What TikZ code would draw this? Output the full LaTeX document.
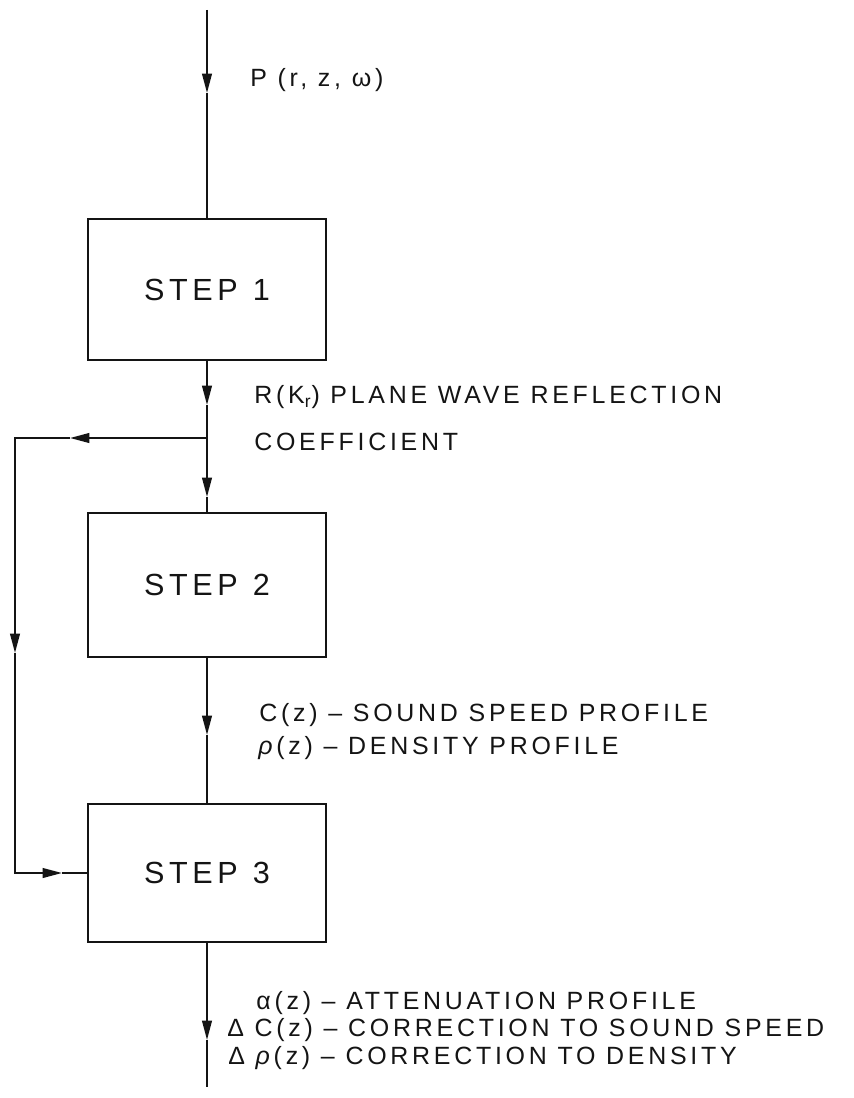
\documentclass[tikz,border=0pt]{standalone}
\usepackage{fontspec}
\setmainfont{Liberation Sans}[LetterSpace=15]
\usepackage{tikz}
\usetikzlibrary{arrows.meta,positioning,calc}
\definecolor{cInk}{HTML}{141414}
\tikzset{
  stepbox/.style={draw=cInk, line width=1.5pt, minimum width=4.76cm, inner sep=0pt,
                  text=cInk, font=\fontsize{17.4}{20}\selectfont},
  wire/.style={draw=cInk, line width=1.1pt},
  flow/.style={wire, -{Triangle[length=11pt, width=5.5pt]}},
  lbl/.style={font=\fontsize{14.2}{17}\selectfont, text=cInk, anchor=west, inner sep=0pt}
}

\begin{document}
\begin{tikzpicture}[x=0.02cm, y=-0.02cm]
\useasboundingbox (0,0) rectangle (853,1098);
% the three steps
\node[stepbox, minimum height=2.82cm] (s1) at (207,289.5) {STEP\enspace 1};
\node[stepbox, minimum height=2.88cm] (s2) at (207,585) {STEP\enspace 2};
\node[stepbox, minimum height=2.76cm] (s3) at (207,873) {STEP\enspace 3};
% points on the main line (arrow tips and branch)
\coordinate (src) at (207,10);
\coordinate (a1) at (207,93);
\coordinate (a2) at (207,405);
\coordinate (br) at (207,438);
\coordinate (a3) at (207,497);
\coordinate (a4) at (207,735);
\coordinate (a5) at (207,1040);
\coordinate (out) at (207,1087);
% main flow
\draw[flow] (src) -- (a1);
\draw[wire] (a1) -- (s1.north);
\draw[flow] (s1.south) -- (a2);
\draw[wire] (a2) -- (br);
\draw[flow] (br) -- (a3);
\draw[wire] (a3) -- (s2.north);
\draw[flow] (s2.south) -- (a4);
\draw[wire] (a4) -- (s3.north);
\draw[flow] (s3.south) -- (a5);
\draw[wire] (a5) -- (out);
% feedback of R(K_r) into step 3
\coordinate (fb1) at (15,438);
\coordinate (fb2) at (15,873);
\coordinate (b1) at (70,438);
\coordinate (b2) at (15,653);
\coordinate (b3) at (62,873);
\draw[flow] (br) -- (b1);
\draw[flow] (b1) -- (fb1) -- (b2);
\draw[flow] (b2) -- (fb2) -- (b3);
\draw[wire] (b3) -- (s3.west);
% labels
\node[lbl] (pin) at (250,80) {P (r, z, ω)};
\node[lbl] (rk1) at (254,397) {R(K\textsubscript{r}) PLANE WAVE REFLECTION};
\node[lbl] (rk2) at (254,442) {COEFFICIENT};
\node[lbl] (cz) at (259,715) {C(z) – SOUND SPEED PROFILE};
\node[lbl] (rz) at (258,748) {\textit{ρ}(z) – DENSITY PROFILE};
\node[lbl] (alz) at (256,1003) {α(z) – ATTENUATION PROFILE};
\node[lbl] (dcz) at (227,1030) {Δ C(z) – CORRECTION TO SOUND SPEED};
\node[lbl] (drz) at (228,1058) {Δ \textit{ρ}(z) – CORRECTION TO DENSITY};
\end{tikzpicture}
\end{document}
